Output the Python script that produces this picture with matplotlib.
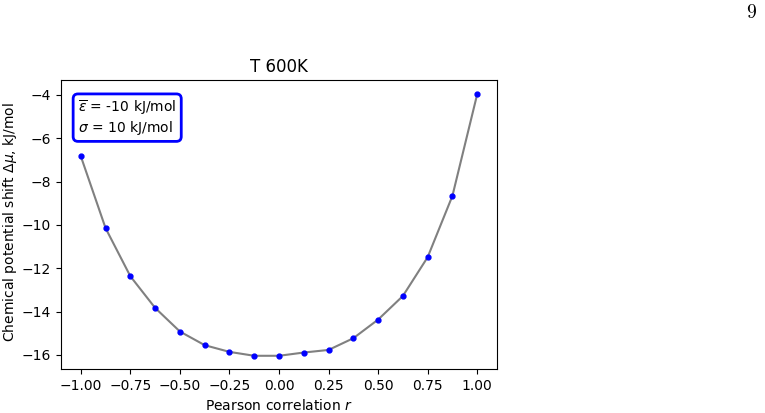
import matplotlib
matplotlib.use('Agg')
import matplotlib.pyplot as plt
import numpy as np

# datos
r = [-1.0, -0.875, -0.75, -0.625, -0.5, -0.375, -0.25, -0.125, 0.0,
     0.125, 0.25, 0.375, 0.5, 0.625, 0.75, 0.875, 1.0]
dmu = [-6.83, -10.15, -12.37, -13.83, -14.92, -15.55, -15.86, -16.04, -16.04,
       -15.89, -15.77, -15.23, -14.37, -13.28, -11.49, -8.66, -3.97]
titulo = 'T 600K'
caja = '$\\overline{\\varepsilon}$ = -10 kJ/mol\n$\\sigma$ = 10 kJ/mol'

fig = plt.figure(figsize=(7.65, 4.13), dpi=100)
ax = fig.add_axes([61/765, 1 - 369/413, (497-61)/765, (369-80)/413])

ax.plot(r, dmu, color='gray', lw=1.5, zorder=1)
ax.plot(r, dmu, 'o', color='blue', ms=3.5, zorder=2)

ax.set_xlim(-1.1, 1.1)
ax.set_xticks(np.arange(-1.0, 1.01, 0.25))
ax.set_ylim(-16.65, -3.31)
ax.set_yticks([-16, -14, -12, -10, -8, -6, -4])
ax.set_xlabel('Pearson correlation $r$')
ax.set_ylabel('Chemical potential shift $\\Delta\\mu$, kJ/mol')
ax.yaxis.set_label_coords(-0.096, 0.51)
ax.set_title(titulo)

ax.text(0.039, 0.935, caja, transform=ax.transAxes, va='top', ha='left',
        fontsize=10, linespacing=1.1,
        bbox=dict(boxstyle='round,pad=0.35', fc='white', ec='blue', lw=2))

fig.text(752/765, 1 - 12/413, '$9$', ha='center', va='center', fontsize=14,
         math_fontfamily='cm')

fig.savefig('out.png', dpi=100)
